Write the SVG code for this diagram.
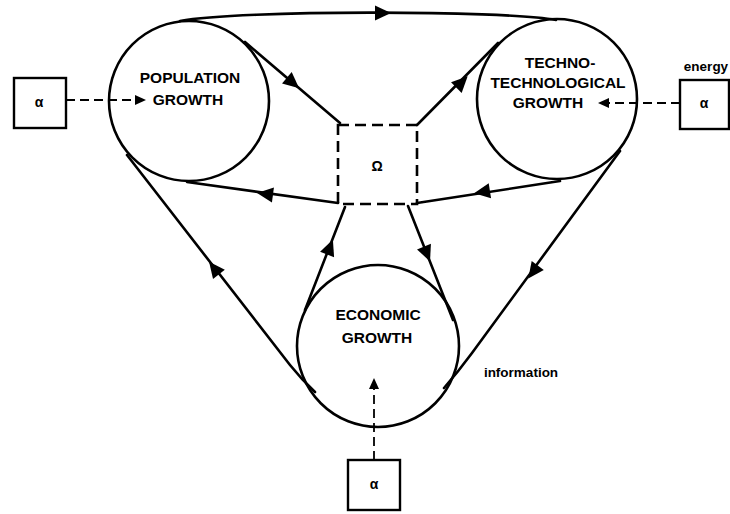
<svg xmlns="http://www.w3.org/2000/svg" xmlns:xlink="http://www.w3.org/1999/xlink" width="730" height="514" viewBox="0 0 730 514">
  <style>
    .ln { fill: none; stroke: #000; stroke-width: 2.6; stroke-linecap: round; stroke-linejoin: round; }
    .dash { fill: none; stroke: #000; stroke-width: 1.8; stroke-dasharray: 9 5; }
    .box { fill: #fff; stroke: #000; stroke-width: 2.4; }
    .node { fill: #fff; stroke: #000; stroke-width: 2.6; }
    .omega { fill: #fff; stroke: #000; stroke-width: 2.6; stroke-dasharray: 11 6; }
    text { font-family: "Liberation Sans", Arial, sans-serif; font-weight: bold; fill: #000; text-anchor: middle; }
    .lbl { font-size: 15.5px; }
    .sm { font-size: 13.5px; }
    .sym { font-size: 14px; }
  </style>
  <defs>
    <path id="ah" d="M8,0 L-8,-7.5 L-8,7.5 Z" fill="#000"/>
    <path id="ahs" d="M6,0 L-5,-5 L-5,5 Z" fill="#000"/>
  </defs>

  <!-- growth circles -->
  <g id="population">
    <circle class="node" cx="189" cy="101" r="80"/>
    <text class="lbl" x="190" y="83">POPULATION</text>
    <text class="lbl" x="188" y="105">GROWTH</text>
  </g>
  <g id="techno">
    <circle class="node" cx="557" cy="99" r="80"/>
    <text class="lbl" x="560" y="68">TECHNO-</text>
    <text class="lbl" x="558" y="88">TECHNOLOGICAL</text>
    <text class="lbl" x="548" y="108">GROWTH</text>
  </g>
  <g id="economic">
    <circle class="node" cx="378" cy="346" r="81"/>
    <text class="lbl" x="378" y="320">ECONOMIC</text>
    <text class="lbl" x="377" y="343">GROWTH</text>
  </g>

  <!-- central sink -->
  <g id="omega">
    <rect class="omega" x="338" y="125" width="79" height="79"/>
    <text class="sym" x="377" y="171">Ω</text>
  </g>

  <!-- alpha sources -->
  <g id="alpha-left">
    <rect class="box" x="14" y="78" width="52" height="50"/>
    <text class="sym" x="39" y="107">α</text>
  </g>
  <g id="alpha-right">
    <rect class="box" x="680" y="80" width="49" height="49"/>
    <text class="sym" x="704" y="108">α</text>
    <text class="sm" x="706" y="71">energy</text>
  </g>
  <g id="alpha-bottom">
    <rect class="box" x="348" y="460" width="52" height="50"/>
    <text class="sym" x="374" y="489">α</text>
  </g>

  <text class="sm" x="521" y="377">information</text>

  <!-- connectors -->
  <g id="connectors">
    <path class="ln" d="M180,21 C240,10 500,10 556,20"/>
    <path class="ln" d="M245,42 L340,123"/>
    <path class="ln" d="M417,125 L498,43"/>
    <path class="ln" d="M560,181 L417,203"/>
    <path class="ln" d="M338,203 L187,182"/>
    <path class="ln" d="M408,206 L453,320"/>
    <path class="ln" d="M345,207 L305,310"/>
    <path class="ln" d="M620,151 L472,353 Q458,372 444,388"/>
    <path class="ln" d="M127,155 L290,365 Q302,380 315,392"/>

    <use xlink:href="#ah" transform="translate(383,13)"/>
    <use xlink:href="#ah" transform="translate(293,83) rotate(40)"/>
    <use xlink:href="#ah" transform="translate(462,82) rotate(-45)"/>
    <use xlink:href="#ah" transform="translate(482,192) rotate(171)"/>
    <use xlink:href="#ah" transform="translate(265,194) rotate(187.6)"/>
    <use xlink:href="#ah" transform="translate(427,254) rotate(67.8)"/>
    <use xlink:href="#ah" transform="translate(330,247) rotate(-68.6)"/>
    <use xlink:href="#ah" transform="translate(533,272) rotate(126.4)"/>
    <use xlink:href="#ah" transform="translate(214,268) rotate(-128)"/>

    <!-- dashed inputs -->
    <path class="dash" d="M66,100 L135,100"/>
    <use xlink:href="#ahs" transform="translate(140,100)"/>
    <path class="dash" d="M680,103 L609,103"/>
    <use xlink:href="#ahs" transform="translate(604,103) rotate(180)"/>
    <path class="dash" d="M374,460 L374,389"/>
    <use xlink:href="#ahs" transform="translate(374,384) rotate(-90)"/>
  </g>
</svg>
